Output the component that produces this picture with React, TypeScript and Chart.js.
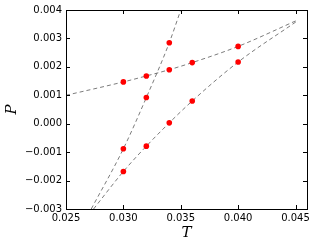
import React, { useEffect, useRef } from 'react';
import { Chart, registerables } from 'chart.js';

Chart.register(...registerables);

// Tick values
const xTicks = [0.025, 0.03, 0.035, 0.04, 0.045];
const yTicks = [-0.003, -0.002, -0.001, 0.0, 0.001, 0.002, 0.003, 0.004];

// Dashed guide curves
const upperT = [0.025, 0.03, 0.032, 0.034, 0.036, 0.04, 0.0452];
const upperP = [0.001, 0.00147, 0.00168, 0.0019, 0.00215, 0.00272, 0.00365];
const steepT = [0.0272, 0.03, 0.032, 0.034, 0.035];
const steepP = [-0.003, -0.00088, 0.00092, 0.00285, 0.004];
const lowerT = [0.0274, 0.03, 0.032, 0.034, 0.036, 0.04, 0.0451];
const lowerP = [-0.003, -0.00168, -0.00079, 0.00003, 0.0008, 0.00217, 0.0036];

// Red measured points
const pointT = [0.03, 0.032, 0.034, 0.036, 0.04, 0.03, 0.032, 0.034, 0.03, 0.032, 0.034, 0.036, 0.04];
const pointP = [0.00147, 0.00168, 0.0019, 0.00215, 0.00272, -0.00088, 0.00092, 0.00285, -0.00168, -0.00079, 0.00003, 0.0008, 0.00217];

const zip = (xs: number[], ys: number[]) => xs.map((x, i) => ({ x, y: ys[i] }));

const fmt = (v: number) => {
  const s = Math.abs(v) < 1e-12 ? '0.000' : v.toFixed(3);
  return s.replace('-', '\u2212');
};

const framePlugin = {
  id: 'frame',
  afterDraw(chart: any) {
    const { ctx, chartArea: a, scales } = chart;
    ctx.save();
    ctx.strokeStyle = '#000';
    ctx.lineWidth = 1;
    const L = 4;
    ctx.beginPath();
    xTicks.forEach((v) => {
      const px = Math.round(scales.x.getPixelForValue(v)) + 0.5;
      ctx.moveTo(px, a.bottom);
      ctx.lineTo(px, a.bottom - L);
      ctx.moveTo(px, a.top);
      ctx.lineTo(px, a.top + L);
    });
    yTicks.forEach((v) => {
      const py = Math.round(scales.y.getPixelForValue(v)) + 0.5;
      ctx.moveTo(a.left, py);
      ctx.lineTo(a.left + L, py);
      ctx.moveTo(a.right, py);
      ctx.lineTo(a.right - L, py);
    });
    ctx.stroke();
    ctx.strokeRect(Math.round(a.left) + 0.5, Math.round(a.top) + 0.5, Math.round(a.right - a.left), Math.round(a.bottom - a.top));
    ctx.restore();
  },
};

const lineDs = (data: { x: number; y: number }[]) => ({
  type: 'scatter' as const,
  data,
  showLine: true,
  borderColor: 'rgba(80,80,80,0.75)',
  borderWidth: 1,
  borderDash: [4, 3],
  pointRadius: 0,
  cubicInterpolationMode: 'monotone' as const,
  order: 2,
});

export default function App() {
  const ref = useRef<HTMLCanvasElement>(null);
  useEffect(() => {
    document.body.style.margin = '0';
    const tickFont = { family: 'DejaVu Sans', size: 10 };
    const titleFont = { family: 'DejaVu Serif', size: 15, style: 'italic' as const };
    const chart = new Chart(ref.current!, {
      type: 'scatter',
      data: {
        datasets: [
          {
            type: 'scatter',
            data: zip(pointT, pointP),
            backgroundColor: '#ff0000',
            borderWidth: 0,
            pointRadius: 2.8,
            order: 0,
          } as any,
          lineDs(zip(upperT, upperP)) as any,
          lineDs(zip(steepT, steepP)) as any,
          lineDs(zip(lowerT, lowerP)) as any,
        ],
      },
      options: {
        animation: false,
        responsive: false,
        layout: { padding: { left: 0, right: 9, top: 10, bottom: 0 } },
        plugins: { legend: { display: false }, tooltip: { enabled: false } },
        scales: {
          x: {
            type: 'linear',
            min: 0.025,
            max: 0.046,
            afterBuildTicks: (s: any) => {
              s.ticks = xTicks.map((v) => ({ value: v }));
            },
            afterFit: (s: any) => {
              s.height = 38;
            },
            grid: { display: false, drawTicks: false },
            border: { display: false },
            ticks: {
              font: tickFont,
              color: '#000',
              padding: 3,
              maxRotation: 0,
              autoSkip: false,
              callback: (v: any) => fmt(Number(v)),
            },
            title: { display: true, text: 'T', font: titleFont, color: '#000', padding: { top: 0, bottom: 5 } },
          },
          y: {
            type: 'linear',
            min: -0.003,
            max: 0.004,
            afterBuildTicks: (s: any) => {
              s.ticks = yTicks.map((v) => ({ value: v }));
            },
            afterFit: (s: any) => {
              s.width = 66;
            },
            grid: { display: false, drawTicks: false },
            border: { display: false },
            ticks: {
              font: tickFont,
              color: '#000',
              padding: 4,
              autoSkip: false,
              callback: (v: any) => fmt(Number(v)),
            },
            title: { display: true, text: 'P', font: titleFont, color: '#000', padding: { top: 3, bottom: 0 } },
          },
        },
      },
      plugins: [framePlugin],
    });
    return () => chart.destroy();
  }, []);
  return (
    <div style={{ position: 'absolute', left: 0, top: 0, width: 316, height: 247, background: '#fff' }}>
      <canvas ref={ref} width={316} height={247} style={{ width: 316, height: 247 }} />
    </div>
  );
}
